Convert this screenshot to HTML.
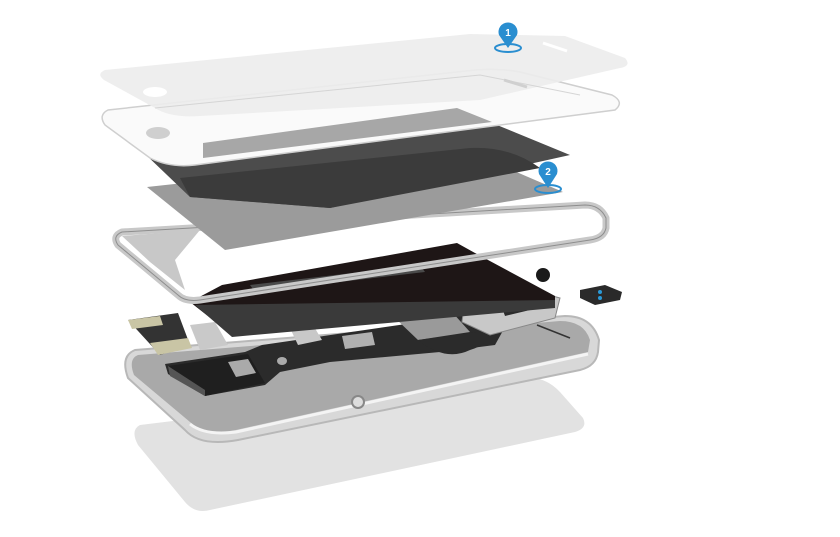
<!DOCTYPE html>
<html><head><meta charset="utf-8"><style>html,body{margin:0;padding:0;background:#fff;width:840px;height:537px;overflow:hidden}svg{display:block}</style></head>
<body>
<svg width="840" height="537" viewBox="0 0 840 537" xmlns="http://www.w3.org/2000/svg">
<!-- shadow -->
<path d="M140,425 L525,378 Q545,376 560,392 L583,418 Q588,428 575,432 L210,510 Q195,514 185,502 L138,445 Q130,430 140,425 Z" fill="#e2e2e2"/>
<!-- case -->
<path d="M135,350 L565,316 Q592,316 599,340 L598,352 Q596,366 580,370 L238,440 Q200,447 185,430 L128,378 Q120,356 135,350 Z" fill="#d8d8d8" stroke="#b8b8b8" stroke-width="2"/>
<path d="M138,355 L560,321 Q584,321 590,340 L588,352 L236,430 Q205,436 190,422 L134,375 Q128,359 138,355 Z" fill="#a9a9a9"/>
<path d="M190,424 Q205,436 236,432 L588,354" fill="none" stroke="#f4f4f4" stroke-width="3"/>
<circle cx="358" cy="402" r="6" fill="#ddd" stroke="#888" stroke-width="2"/>
<line x1="537" y1="325" x2="570" y2="338" stroke="#333" stroke-width="1.5"/>
<!-- lower board -->
<path d="M165,364 L245,352 L262,345 L420,322 L500,310 L510,318 L495,345 L440,352 L330,362 L280,372 L265,385 L205,396 L168,374 Z" fill="#2b2b2b"/>
<path d="M168,366 L248,354 L265,383 L205,396 Z" fill="#1f1f1f"/>
<path d="M168,366 L170,376 L205,396 L205,390 Z" fill="#555"/>
<path d="M228,362 L248,359 L256,373 L236,377 Z" fill="#aaa"/>
<path d="M395,318 L452,312 L470,332 L418,340 Z" fill="#9a9a9a"/>
<path d="M418,340 Q445,362 470,350 Q490,344 492,330 Z" fill="#2b2b2b"/>
<path d="M342,336 L372,332 L375,345 L345,349 Z" fill="#b0b0b0"/>
<path d="M290,328 L313,325 L322,340 L298,345 Z" fill="#c8c8c8"/>
<ellipse cx="282" cy="361" rx="5" ry="4" fill="#aaa"/>
<!-- left connectors -->
<path d="M128,320 L178,313 L190,345 L160,355 Z" fill="#333"/>
<path d="M128,320 L160,316 L163,325 L132,329 Z" fill="#c9c5a5"/>
<path d="M150,343 L188,338 L192,348 L158,355 Z" fill="#c9c5a5"/>
<path d="M190,325 L215,322 L228,345 L200,350 Z" fill="#c9c9c9"/>
<!-- board plate with shield -->
<path d="M465,298 L515,286 L560,298 L555,318 L490,335 L462,322 Z" fill="#c8c8c8" stroke="#888"/>
<path d="M500,302 L525,296 L530,310 L505,316 Z" fill="#2b2b2b"/>
<!-- black top board -->
<path d="M222,285 L457,243 L475,253 L555,296 L555,306 L232,335 L190,302 Z" fill="#1e1616"/>
<path d="M250,285 L420,265 L425,272 L255,292 Z" fill="#4a4a4a"/>
<path d="M195,305 L555,300 L555,308 L232,337 Z" fill="#3a3a3a"/>
<circle cx="543" cy="275" r="7" fill="#1a1a1a"/>
<!-- small camera -->
<path d="M580,290 L605,285 L622,292 L620,300 L595,305 L580,298 Z" fill="#2a2a2a"/>
<circle cx="600" cy="292" r="2" fill="#2a9ad8"/>
<circle cx="600" cy="298" r="2" fill="#2a9ad8"/>
<!-- frame -->
<path d="M122,232 L585,205 Q600,205 606,218 L606,228 Q604,238 590,240 L200,300 Q185,302 178,295 L118,245 Q112,236 122,232 Z" fill="none" stroke="#c8c8c8" stroke-width="7" stroke-linejoin="round"/>
<path d="M122,236 L200,230 L175,260 L185,290 L150,262 Z" fill="#c8c8c8"/>
<path d="M122,232 L585,205 Q600,205 606,218 L606,228 Q604,238 590,240 L200,300 Q185,302 178,295 L118,245 Q112,236 122,232 Z" fill="none" stroke="#8e8e8e" stroke-width="1"/>
<!-- lower gray display -->
<path d="M147,187 L470,152 L563,192 L225,250 Z" fill="#9b9b9b"/>
<!-- dark layer -->
<path d="M143,152 L497,125 L570,155 L330,208 L190,197 Z" fill="#4c4c4c"/>
<path d="M180,178 L470,148 Q510,146 540,168 L330,208 L190,197 Z" fill="#3b3b3b"/>
<!-- white glass 2 -->
<path d="M108,110 L475,70 Q500,68 520,72 L612,95 Q625,102 615,110 L195,165 Q170,168 150,158 L105,125 Q98,115 108,110 Z" fill="#fafafa" stroke="#cfcfcf" stroke-width="1.5"/>
<path d="M203,143 L457,108 L492,122 L203,158 Z" fill="#a7a7a7"/>
<ellipse cx="158" cy="133" rx="12" ry="6" fill="#cfcfcf"/>
<!-- top glass 1 -->
<path d="M105,70 L470,34 L565,36 L625,58 Q632,66 620,68 L480,100 L200,116 Q170,118 155,108 L104,80 Q96,74 105,70 Z" fill="#ececec" opacity="0.9"/>
<path d="M155,108 L480,75 L580,95" fill="none" stroke="#d5d5d5" stroke-width="1"/>
<ellipse cx="155" cy="92" rx="12" ry="5" fill="#fff"/>
<line x1="543" y1="43" x2="567" y2="51" stroke="#fff" stroke-width="3"/>
<line x1="504" y1="80" x2="527" y2="87" stroke="#d0d0d0" stroke-width="3"/>
<!-- pins -->
<ellipse cx="508" cy="48" rx="13" ry="4" fill="none" stroke="#2a8ed0" stroke-width="2"/>
<path d="M499,35 A9.5,9.5 0 1 1 517,35 L508,48 Z" fill="#2a8ed0"/>
<text x="508" y="36" font-family="Liberation Sans, sans-serif" font-size="10" font-weight="bold" fill="#fff" text-anchor="middle">1</text>
<ellipse cx="548" cy="189" rx="13" ry="4" fill="none" stroke="#2a8ed0" stroke-width="2"/>
<path d="M539,174 A9.5,9.5 0 1 1 557,174 L548,188 Z" fill="#2a8ed0"/>
<text x="548" y="175" font-family="Liberation Sans, sans-serif" font-size="10" font-weight="bold" fill="#fff" text-anchor="middle">2</text>
</svg>
</body></html>
